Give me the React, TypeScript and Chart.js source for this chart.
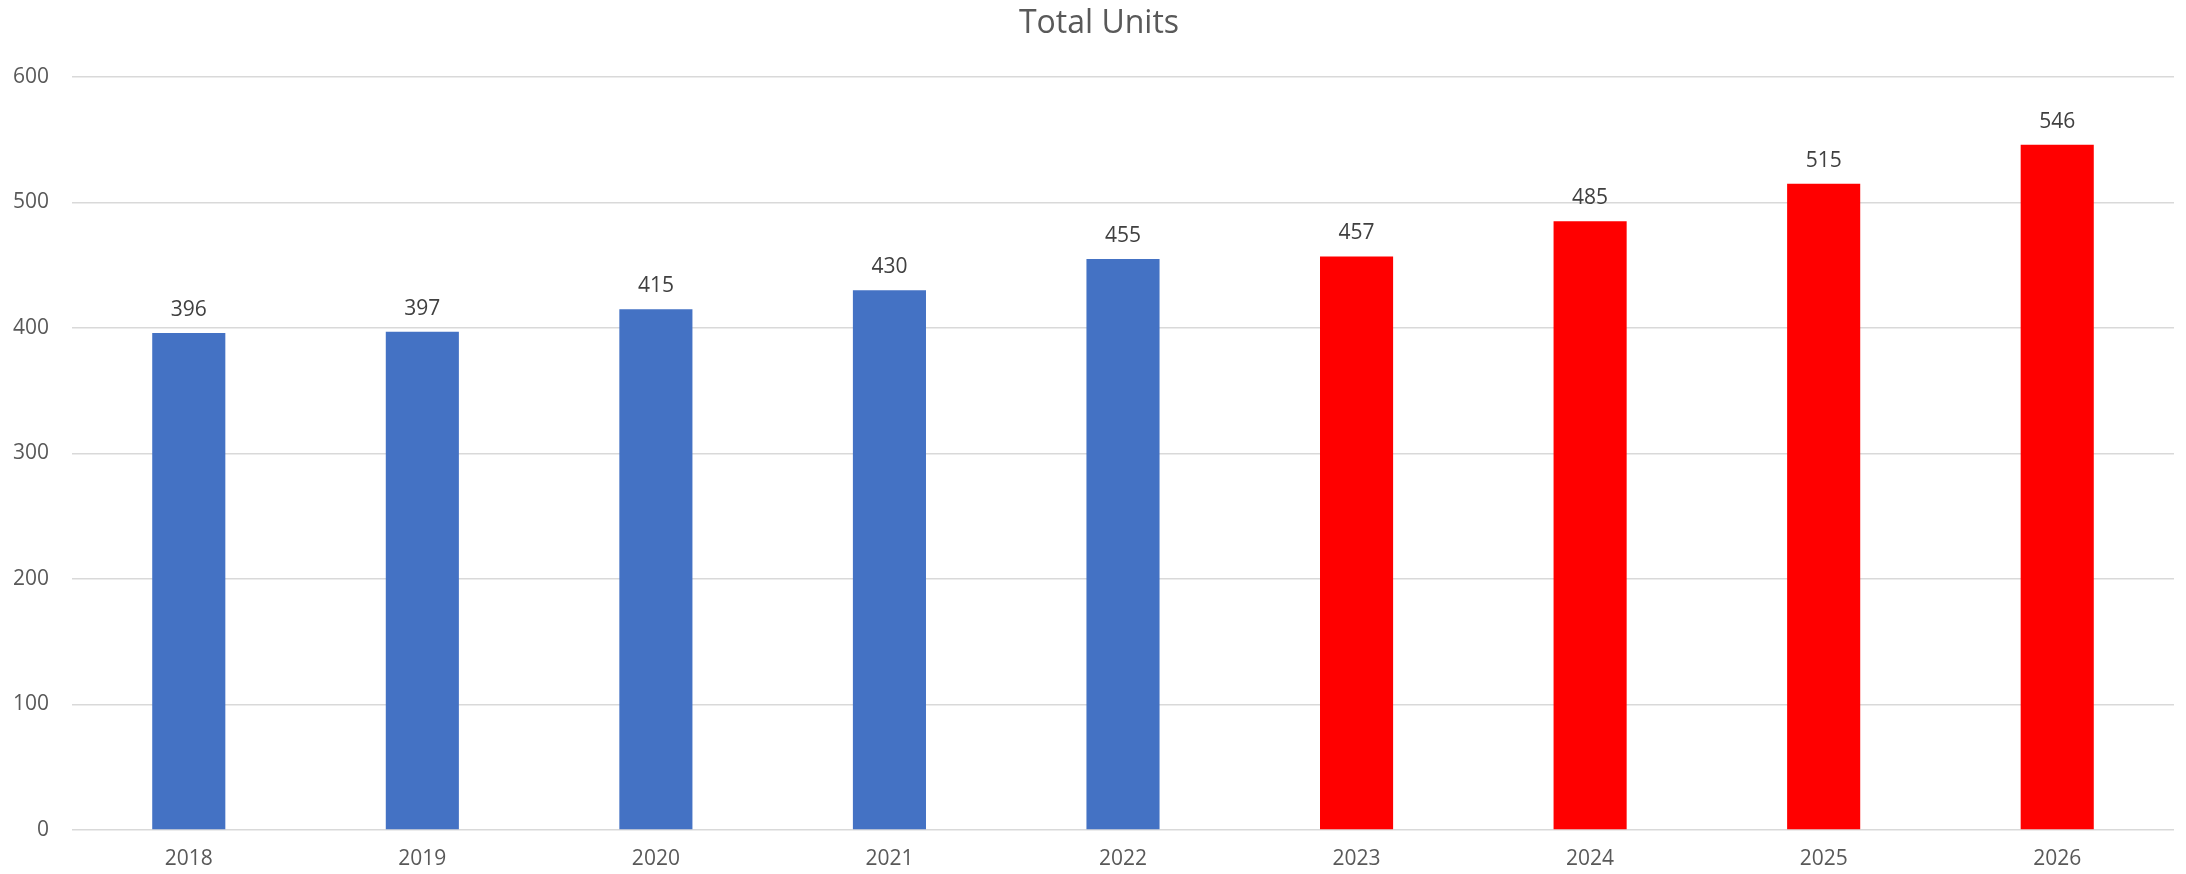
import React, { useEffect, useRef } from "react";
import { Chart, registerables } from "chart.js";

Chart.register(...registerables);

const categories = ["2018", "2019", "2020", "2021", "2022", "2023", "2024", "2025", "2026"];
const values = [396, 397, 415, 430, 455, 457, 485, 515, 546];
const barColors = ["#4472C4", "#4472C4", "#4472C4", "#4472C4", "#4472C4", "#FF0000", "#FF0000", "#FF0000", "#FF0000"];
const yTicks = { min: 0, max: 600, step: 100 };
const titleText = "Total Units";

const FONT = "'Open Sans', 'Noto Sans', sans-serif";

const dataLabels = {
  id: "dataLabels",
  afterDatasetsDraw(chart: any) {
    const ctx = chart.ctx;
    const meta = chart.getDatasetMeta(0);
    ctx.save();
    ctx.font = `21px ${FONT}`;
    ctx.fillStyle = "#404040";
    ctx.textAlign = "center";
    ctx.textBaseline = "alphabetic";
    meta.data.forEach((el: any, i: number) => {
      ctx.fillText(String(values[i]), el.x, el.y - 17);
    });
    ctx.restore();
  },
};

const titlePlugin = {
  id: "customTitle",
  afterDraw(chart: any) {
    const ctx = chart.ctx;
    ctx.save();
    ctx.font = `32px ${FONT}`;
    ctx.fillStyle = "#595959";
    ctx.textAlign = "center";
    ctx.textBaseline = "alphabetic";
    ctx.fillText(titleText, 1099, 33);
    ctx.restore();
  },
};

export default function App() {
  const ref = useRef<HTMLCanvasElement | null>(null);
  useEffect(() => {
    document.body.style.margin = "0";
    if (!ref.current) return;
    const chart = new Chart(ref.current, {
      type: "bar",
      data: {
        labels: categories,
        datasets: [
          {
            data: values,
            backgroundColor: barColors,
            barPercentage: 0.313,
            categoryPercentage: 1,
          },
        ],
      },
      options: {
        animation: false,
        responsive: false,
        maintainAspectRatio: false,
        layout: { padding: { right: 12, left: 0, top: 77, bottom: 0 } },
        plugins: {
          legend: { display: false },
          tooltip: { enabled: false },
          title: { display: false },
        },
        scales: {
          x: {
            grid: { display: false, drawTicks: false },
            border: { display: false },
            ticks: { color: "#595959", font: { family: FONT, size: 21 }, padding: 16 },
            afterFit(scale: any) {
              scale.height = 44;
            },
          },
          y: {
            min: yTicks.min,
            max: yTicks.max,
            ticks: {
              stepSize: yTicks.step,
              color: "#595959",
              font: { family: FONT, size: 21 },
              padding: 23,
            },
            grid: { color: "#D9D9D9", lineWidth: 1.5, drawTicks: false },
            border: { display: false },
            afterFit(scale: any) {
              scale.width = 72;
            },
          },
        },
      },
      plugins: [dataLabels, titlePlugin],
    });
    return () => chart.destroy();
  }, []);
  return (
    <div style={{ width: 2186, height: 874, background: "#fff" }}>
      <canvas ref={ref} width={2186} height={874} style={{ display: "block" }} />
    </div>
  );
}
